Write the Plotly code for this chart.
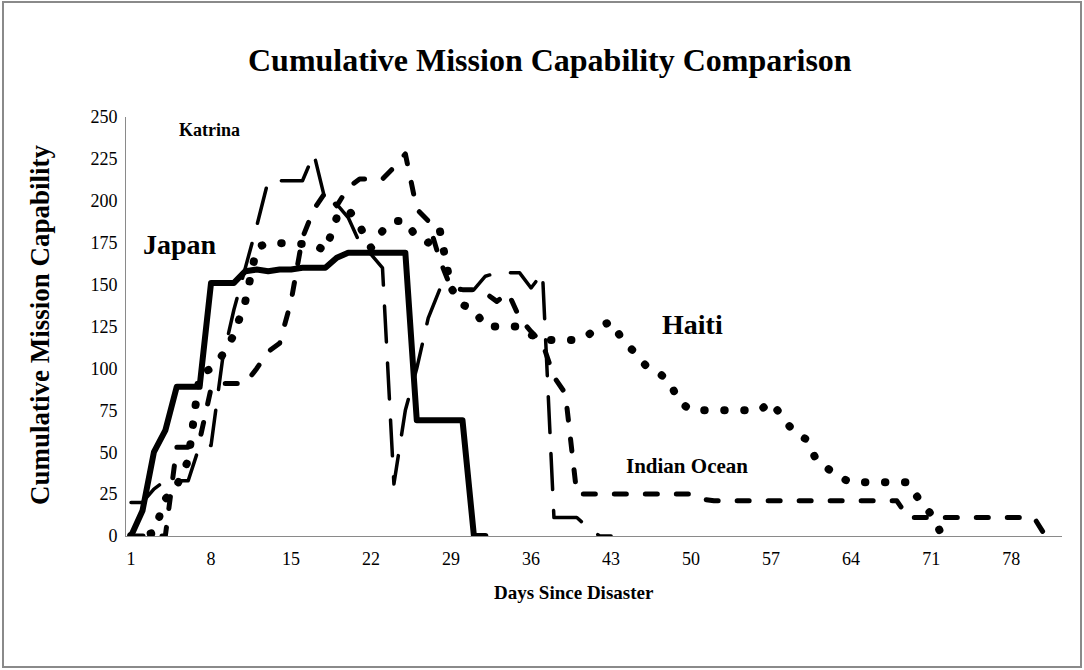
import plotly.graph_objects as go

# ---- data ----
japan_values = [0, 15, 50, 63, 89, 89, 89, 151, 151, 151, 158, 159, 158, 159, 159, 160, 160, 160,
                166, 169, 169, 169, 169, 169, 169, 69, 69, 69, 69, 69, 0, 0]
katrina_values = [20, 20, 28, 33, 33, 33, 54, 54, 105, 135, 160, 185, 212, 212, 212, 212, 228, 200,
                  198, 190, 175, 168, 160, 31, 75, 100, 130, 147, 147, 147, 147, 155, 157, 157, 157,
                  148, 157, 11, 11, 11, 5, 0, 0]
indian_values = [0, 0, 0, 0, 53, 53, 57, 88, 91, 91, 91, 100, 110, 115, 140, 178, 195, 205, 197,
                 208, 213, 213, 213, 220, 228, 195, 188, 165, 148, 147, 147, 145, 140, 145, 130, 122,
                 115, 95, 85, 25, 25, 25, 25, 25, 25, 25, 25, 25, 25, 25, 22, 21, 21, 21, 21, 21,
                 21, 21, 21, 21, 21, 21, 21, 21, 21, 21, 21, 21, 11, 11, 11, 11, 11, 11, 11, 11,
                 11, 11, 11, 11, 0]
haiti_values = [0, 0, 2, 22, 30, 45, 96, 100, 108, 120, 140, 172, 175, 175, 175, 175, 174, 170,
                190, 195, 185, 172, 182, 188, 188, 178, 175, 183, 148, 138, 135, 125, 125, 125,
                125, 120, 117, 117, 117, 117, 120, 125, 128, 117, 110, 102, 98, 93, 80, 75, 75,
                75, 75, 75, 75, 75, 80, 70, 62, 58, 45, 40, 35, 32, 32, 32, 32, 32, 32, 21, 13, 0]

japan_days = list(range(1, len(japan_values) + 1))
katrina_days = list(range(1, len(katrina_values) + 1))
indian_days = list(range(1, len(indian_values) + 1))
haiti_days = list(range(1, len(haiti_values) + 1))

x_tick_vals = [1, 8, 15, 22, 29, 36, 43, 50, 57, 64, 71, 78]
y_tick_vals = [0, 25, 50, 75, 100, 125, 150, 175, 200, 225, 250]

FONT = "Liberation Serif"

fig = go.Figure()
fig.add_trace(go.Scatter(x=katrina_days, y=katrina_values, mode="lines", name="Katrina",
                         line=dict(color="black", width=3.5, dash="36px,21px")))
fig.add_trace(go.Scatter(x=indian_days, y=indian_values, mode="lines", name="Indian Ocean",
                         line=dict(color="black", width=5, dash="12px,19px")))
fig.add_trace(go.Scatter(x=haiti_days, y=haiti_values, mode="lines", name="Haiti",
                         line=dict(color="black", width=8, dash="0.5px,19.5px")))
fig.add_trace(go.Scatter(x=japan_days, y=japan_values, mode="lines", name="Japan",
                         line=dict(color="black", width=6)))

L, R, T, B = 126, 22, 117, 134
W, H = 1084, 670
pw, ph = W - L - R, H - T - B

def px_to_paper_x(px):
    return (px - L) / pw

def px_to_paper_y(py):
    return (H - B - py) / ph

def ann(text, x, y, size, paper=False, angle=0):
    d = dict(text=text, x=x, y=y, showarrow=False, textangle=angle,
             xanchor="center", yanchor="middle",
             font=dict(family=FONT, size=size, color="black"))
    if paper:
        d.update(xref="paper", yref="paper")
    return d

annotations = [
    ann("<b>Cumulative Mission Capability Comparison</b>", px_to_paper_x(550), px_to_paper_y(60), 32, True),
    ann("<b>Cumulative Mission Capability</b>", px_to_paper_x(40), px_to_paper_y(325), 27, True, -90),
    ann("<b>Days Since Disaster</b>", px_to_paper_x(574), px_to_paper_y(592), 19, True),
    ann("<b>Katrina</b>", 7.9, 242, 18),
    ann("<b>Japan</b>", 5.3, 174, 28),
    ann("<b>Haiti</b>", 50.1, 126, 28),
    ann("<b>Indian Ocean</b>", 49.6, 42, 21),
]

fig.update_layout(
    width=W, height=H,
    margin=dict(l=L, r=R, t=T, b=B),
    paper_bgcolor="white", plot_bgcolor="white",
    showlegend=False,
    annotations=annotations,
    shapes=[dict(type="rect", xref="paper", yref="paper",
                 x0=px_to_paper_x(3), x1=px_to_paper_x(1081),
                 y0=px_to_paper_y(667), y1=px_to_paper_y(2),
                 line=dict(color="#8a8a8a", width=2), fillcolor="rgba(0,0,0,0)", layer="below")],
    xaxis=dict(range=[0.56, 82.45], tickvals=x_tick_vals, ticktext=[str(v) for v in x_tick_vals],
               showgrid=False, zeroline=False, showline=True, linecolor="#8a8a8a", linewidth=1,
               ticks="", ticklabelstandoff=6,
               tickfont=dict(family=FONT, size=18, color="black")),
    yaxis=dict(range=[0, 250], tickvals=y_tick_vals, ticktext=[str(v) for v in y_tick_vals],
               showgrid=False, zeroline=False, showline=True, linecolor="#8a8a8a", linewidth=1,
               ticks="", ticklabelstandoff=4,
               tickfont=dict(family=FONT, size=18, color="black")),
)

post = """
document.body.style.margin = '0';
document.body.style.padding = '0';
function roundCaps(){
  document.querySelectorAll('.scatterlayer path.js-line').forEach(function(p){
    p.style.strokeLinecap = 'round';
    p.style.strokeLinejoin = 'round';
  });
}
roundCaps();
var gd = document.getElementsByClassName('plotly-graph-div')[0];
if (gd && gd.on) { gd.on('plotly_afterplot', roundCaps); }
"""

fig.write_html("out.html", post_script=post, config={"displayModeBar": False})
